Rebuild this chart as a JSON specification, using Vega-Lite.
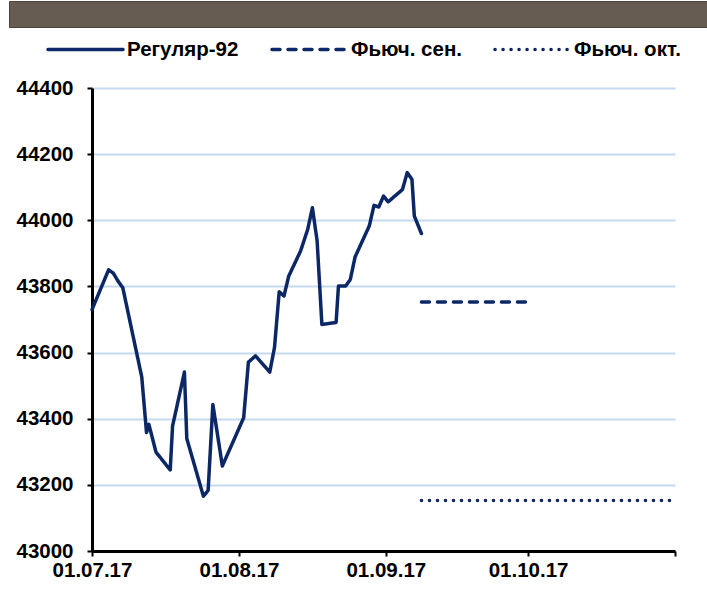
{
  "$schema": "https://vega.github.io/schema/vega-lite/v6.json",
  "background": "white",
  "padding": {"left": 8, "top": 0, "right": 0, "bottom": 4},
  "spacing": 50,
  "config": {"font": "Liberation Sans"},
  "vconcat": [
    {
      "width": 699,
      "height": 26,
      "view": {"fill": "#675c52", "stroke": "#4d443c", "strokeWidth": 1},
      "data": {"values": [{"t": ""}]},
      "mark": {"type": "text", "color": "white"},
      "encoding": {"text": {"field": "t", "type": "nominal"}}
    },
    {
      "width": 666,
      "height": 463,
      "view": {"stroke": null},
      "data": {
        "values": [
          {"series": "Регуляр-92", "date": "2017-07-01T00:00:00", "price": 43730},
          {"series": "Регуляр-92", "date": "2017-07-04T12:00:00", "price": 43850},
          {"series": "Регуляр-92", "date": "2017-07-05T12:00:00", "price": 43840},
          {"series": "Регуляр-92", "date": "2017-07-06T12:00:00", "price": 43816},
          {"series": "Регуляр-92", "date": "2017-07-07T12:00:00", "price": 43796},
          {"series": "Регуляр-92", "date": "2017-07-11T12:00:00", "price": 43526},
          {"series": "Регуляр-92", "date": "2017-07-12T12:00:00", "price": 43358},
          {"series": "Регуляр-92", "date": "2017-07-13T00:00:00", "price": 43383},
          {"series": "Регуляр-92", "date": "2017-07-14T12:00:00", "price": 43299},
          {"series": "Регуляр-92", "date": "2017-07-17T12:00:00", "price": 43245},
          {"series": "Регуляр-92", "date": "2017-07-18T00:00:00", "price": 43378},
          {"series": "Регуляр-92", "date": "2017-07-20T12:00:00", "price": 43541},
          {"series": "Регуляр-92", "date": "2017-07-21T00:00:00", "price": 43340},
          {"series": "Регуляр-92", "date": "2017-07-24T12:00:00", "price": 43166},
          {"series": "Регуляр-92", "date": "2017-07-25T12:00:00", "price": 43183},
          {"series": "Регуляр-92", "date": "2017-07-26T12:00:00", "price": 43443},
          {"series": "Регуляр-92", "date": "2017-07-28T12:00:00", "price": 43257},
          {"series": "Регуляр-92", "date": "2017-08-02T00:00:00", "price": 43403},
          {"series": "Регуляр-92", "date": "2017-08-03T00:00:00", "price": 43571},
          {"series": "Регуляр-92", "date": "2017-08-04T12:00:00", "price": 43590},
          {"series": "Регуляр-92", "date": "2017-08-07T12:00:00", "price": 43541},
          {"series": "Регуляр-92", "date": "2017-08-08T12:00:00", "price": 43615},
          {"series": "Регуляр-92", "date": "2017-08-09T12:00:00", "price": 43784},
          {"series": "Регуляр-92", "date": "2017-08-10T12:00:00", "price": 43771},
          {"series": "Регуляр-92", "date": "2017-08-11T12:00:00", "price": 43831},
          {"series": "Регуляр-92", "date": "2017-08-14T00:00:00", "price": 43907},
          {"series": "Регуляр-92", "date": "2017-08-15T12:00:00", "price": 43972},
          {"series": "Регуляр-92", "date": "2017-08-16T12:00:00", "price": 44038},
          {"series": "Регуляр-92", "date": "2017-08-17T12:00:00", "price": 43937},
          {"series": "Регуляр-92", "date": "2017-08-18T12:00:00", "price": 43685},
          {"series": "Регуляр-92", "date": "2017-08-21T12:00:00", "price": 43691},
          {"series": "Регуляр-92", "date": "2017-08-22T00:00:00", "price": 43801},
          {"series": "Регуляр-92", "date": "2017-08-23T12:00:00", "price": 43801},
          {"series": "Регуляр-92", "date": "2017-08-24T12:00:00", "price": 43821},
          {"series": "Регуляр-92", "date": "2017-08-25T12:00:00", "price": 43889},
          {"series": "Регуляр-92", "date": "2017-08-28T12:00:00", "price": 43983},
          {"series": "Регуляр-92", "date": "2017-08-29T12:00:00", "price": 44045},
          {"series": "Регуляр-92", "date": "2017-08-30T12:00:00", "price": 44040},
          {"series": "Регуляр-92", "date": "2017-08-31T12:00:00", "price": 44073},
          {"series": "Регуляр-92", "date": "2017-09-01T12:00:00", "price": 44056},
          {"series": "Регуляр-92", "date": "2017-09-04T12:00:00", "price": 44093},
          {"series": "Регуляр-92", "date": "2017-09-05T12:00:00", "price": 44144},
          {"series": "Регуляр-92", "date": "2017-09-06T12:00:00", "price": 44124},
          {"series": "Регуляр-92", "date": "2017-09-07T00:00:00", "price": 44013},
          {"series": "Регуляр-92", "date": "2017-09-08T12:00:00", "price": 43960},
          {"series": "Фьюч. сен.", "date": "2017-09-08T12:00:00", "price": 43753},
          {"series": "Фьюч. сен.", "date": "2017-10-01T00:00:00", "price": 43753},
          {"series": "Фьюч. окт.", "date": "2017-09-08T12:00:00", "price": 43153},
          {"series": "Фьюч. окт.", "date": "2017-11-01T00:00:00", "price": 43153}
        ]
      },
      "mark": {"type": "line", "strokeWidth": 3.5, "strokeCap": "round", "strokeJoin": "round"},
      "encoding": {
        "x": {
          "field": "date",
          "type": "temporal",
          "scale": {"domain": [{"year": 2017, "month": 7, "date": 1}, {"year": 2017, "month": 11, "date": 1}], "nice": false, "range": [83, 666]},
          "axis": {
            "title": null,
            "values": [
              {"year": 2017, "month": 7, "date": 1},
              {"year": 2017, "month": 8, "date": 1},
              {"year": 2017, "month": 9, "date": 1},
              {"year": 2017, "month": 10, "date": 1},
              {"year": 2017, "month": 11, "date": 1}
            ],
            "format": "%d.%m.%y",
            "labelExpr": "month(datum.value) == 10 ? '' : datum.label",
            "labelFlush": false,
            "labelOverlap": false,
            "grid": false,
            "domainColor": "black",
            "domainWidth": 3,
            "tickColor": "black",
            "tickWidth": 2,
            "tickSize": 5,
            "labelPadding": 4,
            "labelFont": "Liberation Sans",
            "labelFontSize": 20.5,
            "labelFontWeight": "bold",
            "labelColor": "black",
            "labelDx": 3,
            "zindex": 1
          }
        },
        "y": {
          "field": "price",
          "type": "quantitative",
          "scale": {"domain": [43000, 44400], "nice": false, "zero": false},
          "axis": {
            "title": null,
            "offset": -83,
            "values": [43000, 43200, 43400, 43600, 43800, 44000, 44200, 44400],
            "format": "d",
            "grid": true,
            "gridColor": "#c5d9f1",
            "gridWidth": 2,
            "domainColor": "black",
            "domainWidth": 3,
            "tickColor": "black",
            "tickWidth": 2,
            "tickSize": 5,
            "labelPadding": 14,
            "labelFont": "Liberation Sans",
            "labelFontSize": 20.5,
            "labelFontWeight": "bold",
            "labelColor": "black"
          }
        },
        "color": {
          "field": "series",
          "type": "nominal",
          "scale": {"domain": ["Регуляр-92", "Фьюч. сен.", "Фьюч. окт."], "range": ["#0b2766", "#0b2766", "#0b2766"]},
          "legend": {
            "title": null,
            "orient": "none",
            "legendX": 37,
            "legendY": 9,
            "direction": "horizontal",
            "symbolType": "stroke",
            "symbolSize": 5625,
            "symbolStrokeWidth": 3.5,
            "labelFont": "Liberation Sans",
            "labelFontSize": 20.5,
            "labelFontWeight": "bold",
            "labelColor": "black",
            "labelOffset": 2,
            "columnPadding": 26,
            "padding": 0,
            "encode": {"symbols": {"update": {"strokeCap": {"value": "round"}}}}
          }
        },
        "strokeDash": {
          "field": "series",
          "type": "nominal",
          "scale": {"domain": ["Регуляр-92", "Фьюч. сен.", "Фьюч. окт."], "range": [[1, 0], [8, 8], [0.1, 7.9]]},
          "legend": {
            "title": null,
            "orient": "none",
            "legendX": 37,
            "legendY": 9,
            "direction": "horizontal",
            "symbolType": "stroke",
            "symbolSize": 5625,
            "symbolStrokeWidth": 3.5,
            "labelFont": "Liberation Sans",
            "labelFontSize": 20.5,
            "labelFontWeight": "bold",
            "labelColor": "black",
            "labelOffset": 2,
            "columnPadding": 26,
            "padding": 0,
            "encode": {"symbols": {"update": {"strokeCap": {"value": "round"}}}}
          }
        }
      }
    }
  ]
}
